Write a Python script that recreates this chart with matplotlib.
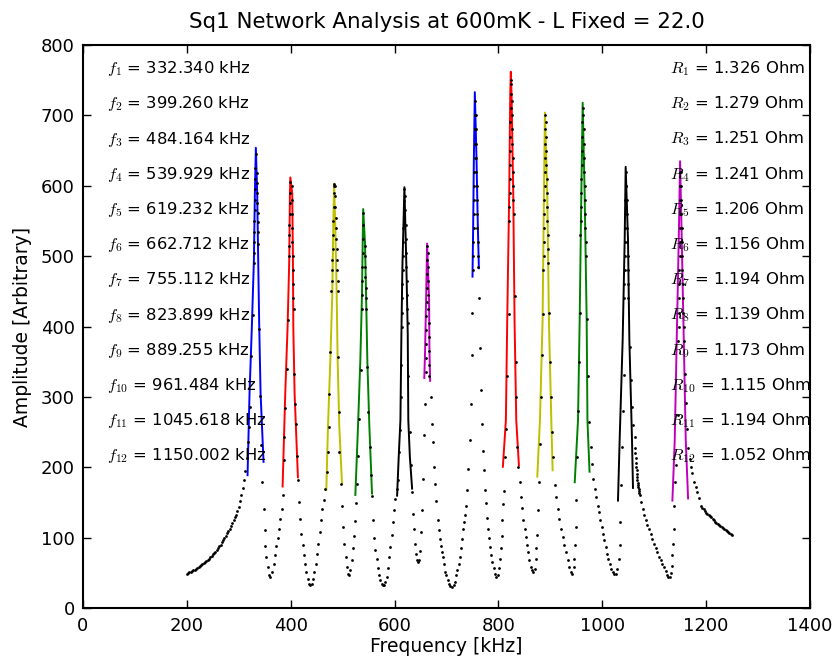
import matplotlib
matplotlib.use("Agg")
import matplotlib.pyplot as plt

# ---------------- data ----------------
res_freq_khz = [332.340, 399.260, 484.164, 539.929, 619.232, 662.712,
                755.112, 823.899, 889.255, 961.484, 1045.618, 1150.002]
res_ohm = [1.326, 1.279, 1.251, 1.241, 1.206, 1.156,
           1.194, 1.139, 1.173, 1.115, 1.194, 1.052]
fit_colors = ['#0000ff', '#ff0000', '#bfbf00', '#008000', '#000000', '#bf00bf',
              '#0000ff', '#ff0000', '#bfbf00', '#008000', '#000000', '#bf00bf']

# measured sweep (black dots), split between resonances
seg0_f = [200, 202.5, 205, 207.5, 210, 212.5, 215, 217.5, 220, 222.5, 225, 227.5, 230, 232.5,
          235, 237.5, 240, 242.5, 245, 247.5, 250, 252.5, 255, 257.5, 260, 262.5, 265, 267.5,
          270, 272.5, 275, 277.5, 280, 282.5, 285, 287.5, 290, 292.5, 295, 297.5, 300, 302.5,
          305, 307.5, 310, 312.5, 315, 317, 319, 320.7, 323.9, 326.5,
          328.4, 328.8, 329.2, 329.6, 330, 330.4, 330.8, 331.2, 331.6, 332, 332.4]
seg0_a = [49, 50, 51, 52, 53, 54, 55, 56.5, 57.5, 59, 60, 61.5, 62.5, 64,
          65.5, 67, 69, 70.5, 72.5, 74.5, 76.5, 78.5, 80.5, 83, 85.5, 88, 90.5, 93.5,
          96.5, 99.5, 103, 106.5, 110, 113, 117, 121, 125, 129, 133, 138, 144, 152,
          161, 171, 182, 195, 214, 236, 258, 286, 359, 416,
          490, 505, 520, 535, 550, 565, 580, 595, 610, 625, 645]

seg1_f = [334.6, 335, 335.4, 335.8, 336.2, 336.6, 337, 337.4, 338.8, 341.3, 343.2, 345.3,
          347.8, 349.7, 351, 352.9, 355.5, 358.2, 360.6, 363.9, 367.1, 369.6, 372.2, 374.8,
          377.4, 379.9, 382.5, 384.4, 386.3, 387.6, 389.5, 392.1, 394.6,
          396.2, 396.6, 397, 397.4, 397.8, 398.2, 398.6, 399]
seg1_a = [618, 604, 590, 576, 562, 548, 534, 518, 397, 301, 232, 180,
          141.5, 110.7, 88, 73, 58.7, 47, 44.5, 51.6, 62.4, 75.2, 88, 100.3,
          113.1, 127.3, 141.5, 160.5, 210, 243, 284, 340, 409,
          500, 515, 530, 545, 560, 575, 590, 605]

seg2_f = [401.8, 402.2, 402.6, 403, 403.4, 403.8, 404.2, 404.6, 405, 405.4,
          406.2, 408, 410, 411.6, 413.3, 416.6, 418.5, 420.4, 423, 424.9, 426.8, 430.1,
          432.6, 435.9, 437.8, 440.3, 442.9, 445.5, 448.1, 450.6, 453.2, 455.8, 458.3,
          460.9, 463.5, 466.5, 469.5, 471.5, 473, 474.5, 476.3, 478.2,
          479.5, 480, 480.5, 481, 481.5, 482, 482.5, 483, 483.4, 483.8]
seg2_a = [600, 580, 560, 540, 520, 500, 480, 460, 440, 425,
          333, 290, 262, 217, 182, 151, 126.4, 106, 89.4, 75.2, 63.4, 51.6,
          42.1, 35, 32.6, 35, 42.1, 51.6, 63.4, 77.6, 91.8, 108.4, 126,
          141.5, 154, 170, 194, 222, 258, 305, 364, 450,
          465, 480, 495, 510, 530, 550, 570, 590, 603, 600]

seg3_f = [484.6, 485.4, 486, 486.6, 487.2, 487.8, 488.4, 489, 489.6, 490.2, 490.8,
          491.2, 493, 493.6, 496.2, 498.8, 501, 503.3, 505.6, 508, 510.3, 512.6, 514.9,
          517.2, 519.5, 521.8, 524.1, 526.4, 527.5, 530, 532, 535.4,
          536.8, 537.2, 537.6, 538, 538.4, 538.8, 539.1, 539.3]
seg3_a = [600, 585, 570, 555, 540, 525, 510, 495, 480, 465, 450,
          357, 279, 222, 177, 145, 116, 92, 73, 58, 49, 47, 54,
          68, 86, 103, 124, 150, 177, 217, 269, 338,
          425, 445, 465, 485, 505, 525, 545, 562]

seg4_f = [542.5, 543, 543.5, 544, 544.5, 545, 545.5, 547, 549.6, 552.1, 554.5, 556.6,
          558.6, 561, 563.2, 565.6, 568, 570.4, 572.8, 575.2, 577.6, 580, 582.4, 584.8,
          587.2, 589.6, 592, 594.4, 596.8, 599.2, 601.6, 604, 606.2, 608.8, 610.3, 611.5,
          612.5, 613.5, 614, 614.5, 615, 615.5, 616, 616.5, 617, 617.5, 618, 618.5]
seg4_a = [515, 500, 485, 470, 455, 440, 425, 343, 279, 229, 190, 160,
          125, 100, 83, 70, 57, 47, 40, 35, 32.6, 33.5, 38, 45,
          57, 73, 87, 104, 122, 139, 155, 170, 182, 222, 253, 300,
          345, 400, 420, 440, 460, 480, 500, 520, 540, 560, 578, 595]

seg5_f = [620.5, 621, 621.5, 622, 622.5, 623, 623.5, 624, 624.5, 625,
          626.5, 629.3, 631.2, 633.8, 635.7, 637, 639, 641.5, 643.4, 645.4, 647.9, 649.9,
          651.2, 653.1, 655, 657.6, 659,
          659.8, 660.2, 660.6, 661, 661.4, 661.8, 662.2, 662.5, 662.7, 662.9]
seg5_a = [585, 565, 545, 525, 505, 485, 465, 445, 425, 405,
          330, 250, 204, 165, 134, 112, 91, 77.6, 68, 65.8, 69, 82,
          108, 140, 184, 246, 290,
          335, 355, 375, 395, 415, 435, 455, 475, 495, 515]

seg6_f = [663.6, 664, 664.4, 664.8, 665.2, 665.6, 666, 666.4, 666.8, 667.2,
          670, 672, 673.7, 675.6, 677.5, 680.1, 683.3, 685.2, 687.2, 689.7, 691.7, 693.6,
          695.5, 698.1, 700, 702.6, 705.1, 707.7, 710.9, 714.2, 716.1, 718.7, 721.2, 723.8,
          725.7, 727.6, 729.6, 731.5, 733.4, 735.4, 737.3, 739.9, 741.8, 744.4, 746.5,
          748.5, 750,
          751, 751.4, 751.8, 752.2, 752.6, 753, 753.4, 753.8, 754.1, 754.4, 754.6, 754.8, 755]
seg6_a = [505, 485, 465, 445, 425, 405, 385, 365, 345, 330,
          300, 262, 236, 201, 177, 153, 125, 111, 99, 89, 80, 73,
          63, 52, 47, 40, 35, 31.7, 30.3, 32.6, 37.4, 46.8, 54, 63,
          73, 85, 99, 113, 122, 133, 146, 168, 198, 239, 290,
          360, 420,
          480, 500, 520, 540, 560, 580, 600, 620, 640, 660, 680, 700, 720]

seg7_f = [756, 756.5, 757, 757.4, 757.8, 758.2, 758.6, 759, 759.5, 760, 760.6, 761.2,
          763.5, 765, 766.5, 768.5, 770.5, 772.5, 774.5, 776.5, 778.5, 780.5, 782.5, 784.5,
          786.5, 788.5, 791, 793.5, 796, 798.5, 801, 803, 804.5, 806, 807.5, 809.5, 811,
          812.8, 815.5, 817.5, 820.9,
          821, 821.3, 821.6, 821.9, 822.2, 822.5, 822.8, 823.1, 823.4, 823.7, 824]
seg7_a = [700, 680, 660, 640, 620, 600, 580, 560, 540, 520, 500, 485,
          440, 370, 310, 262, 224, 196, 168, 149, 128, 113, 100, 87,
          75, 66, 57, 49, 44.5, 47, 57, 70, 85, 103, 125, 148, 167,
          215, 255, 330, 418,
          550, 570, 590, 610, 630, 650, 670, 690, 710, 730, 750]

seg8_f = [825, 825.5, 826, 826.5, 827, 827.5, 828, 828.5, 829, 829.5,
          831.1, 833, 834.5, 836.3, 838.5, 841.4, 844, 845.9, 847.9, 850.4, 852.4, 854.3,
          856.9, 859.4, 862, 865.2, 867.1, 869.7, 871.6, 872.9, 874.9, 876.1, 878.1, 880,
          882, 884, 885.8,
          886.5, 886.9, 887.3, 887.7, 888.1, 888.5, 888.8, 889.1, 889.3, 889.5, 889.7, 889.9]
seg8_a = [745, 720, 700, 680, 660, 640, 620, 600, 580, 560,
          443, 350, 300, 229, 200, 180, 158, 143, 126, 113, 101, 89.5,
          80, 68, 58.7, 54, 51.6, 56, 70.5, 86, 104, 140, 179, 234,
          300, 360, 418,
          480, 500, 520, 540, 560, 580, 600, 620, 640, 660, 680, 700]

seg9_f = [891, 891.5, 892, 892.5, 893, 893.5, 894, 894.5, 895, 895.5, 896,
          897.5, 899.3, 901, 903.5, 906, 908.3, 910.7, 914, 917.1, 920.4, 923.6, 926.8,
          930, 933.2, 936.4, 939.6, 942.2, 944.8, 946.1, 947.4, 948.7, 950, 952, 954,
          956, 957.5,
          958, 958.5, 959, 959.5, 960, 960.5, 961, 961.4, 961.8, 962.1]
seg9_a = [690, 670, 650, 630, 610, 590, 570, 550, 530, 510, 490,
          420, 350, 300, 250, 215, 175, 158, 141.5, 127, 113, 101, 89.4,
          80, 68, 58.7, 51.6, 49.2, 58.7, 70.5, 89.4, 115.5, 153.4, 215, 280,
          350, 420,
          530, 550, 570, 590, 610, 630, 650, 670, 690, 710]

seg10_f = [963.5, 964, 964.5, 965, 965.5, 966, 966.5, 967, 967.5, 968, 968.5,
           970, 972, 975, 977.7, 980.9, 982.8, 985.9, 988.5, 991, 993.6, 996.2, 998.8,
           1001.3, 1003.9, 1006.5, 1009.1, 1011.6, 1014.2, 1016.8, 1020, 1023.2, 1025.8,
           1029, 1032.3, 1033.5, 1034.2, 1036, 1038.7, 1040.5, 1041.9,
           1042.5, 1042.8, 1043.1, 1043.4, 1043.7, 1044, 1044.3, 1044.6, 1044.9, 1045.2]
seg10_a = [700, 680, 660, 640, 620, 600, 580, 560, 540, 520, 500,
           411, 330, 265, 229, 205, 183, 170, 158, 146, 137, 125, 115.5,
           106, 96.5, 87, 77.6, 70.5, 63.4, 56.3, 51.6, 48.3, 49.2,
           56.3, 70.5, 89.4, 122.6, 175, 229, 280, 331,
           440, 460, 480, 500, 520, 540, 560, 580, 600, 620]

seg11_f = [1046.5, 1047, 1047.5, 1048, 1048.5, 1049, 1049.5, 1050, 1050.5,
           1053.4, 1055.4, 1058, 1059.9, 1062.5, 1063, 1063.6, 1064.2, 1064.8, 1065.4,
           1066, 1066.6, 1067.2, 1067.8, 1068.4, 1069, 1069.6, 1070.2, 1070.8, 1071.5,
           1072.8, 1075.3, 1077.9, 1080.5, 1083.7, 1086.9, 1090.1, 1093.3, 1096.5, 1099.8,
           1103, 1106.2, 1109.4, 1112.6, 1115.8, 1119, 1122.2, 1124.7, 1127.2, 1129.6,
           1131.8, 1133.5, 1135, 1136.5, 1137.8, 1139, 1141, 1142.8, 1146,
           1146.8, 1147.2, 1147.6, 1148, 1148.4, 1148.7, 1149, 1149.2, 1149.4, 1149.6,
           1149.8, 1150, 1150.2]
seg11_a = [600, 580, 560, 540, 520, 500, 480, 460, 440,
           371, 324, 286, 260, 243, 227, 220, 213, 207, 201,
           196, 191, 186, 182, 178, 175, 172, 169, 166, 164,
           160.5, 151, 141.5, 132, 125, 118, 113, 106, 99, 92,
           85, 80, 73, 68, 62.5, 58.7, 53, 48, 45, 45,
           50, 60, 75, 92, 112, 145, 180, 203, 274,
           380, 400, 420, 440, 460, 480, 500, 520, 540, 560,
           580, 600, 620]

seg12_f = [1151, 1151.5, 1152, 1152.5, 1153, 1153.5, 1154, 1154.5, 1155, 1155.5, 1156,
           1156.5, 1157, 1159, 1161, 1163.5, 1166, 1168.5, 1171, 1173.7, 1176.9, 1180.1,
           1183.3, 1186.5, 1190, 1192.5, 1195, 1197.5, 1200, 1202.5, 1205, 1207.5, 1210,
           1212.5, 1215, 1217.5, 1220, 1222.5, 1225, 1227.5, 1230, 1232.5, 1235, 1237.5,
           1240, 1242.5, 1245, 1247.5, 1250]
seg12_a = [620, 600, 580, 560, 540, 520, 500, 480, 460, 440, 420,
           400, 380, 333, 291, 255, 228, 212, 201, 192, 180, 172,
           165, 156, 146, 143, 140.5, 138, 136, 134, 132, 130.5, 129,
           127, 125, 123, 121.5, 120, 118, 116.5, 115, 114, 113, 111,
           109.5, 108, 106.5, 105, 104]

# fitted resonance curves (coloured lines)
fit1_f = [316.9, 320.7, 325.2, 329.1, 331.0, 332.9, 335.5, 337.4, 339.4, 342.0, 347.7]
fit1_a = [189, 305, 400, 494, 589, 654, 589, 494, 400, 305, 208]
fit2_f = [384.4, 389.5, 394.0, 397.2, 398.5, 399.3, 403.0, 404.3, 405.0, 407.5, 413.9]
fit2_a = [173, 305, 400, 494, 589, 612, 589, 494, 400, 305, 186]
fit3_f = [468.6, 471.8, 476.3, 480.1, 482.0, 483.6, 485.9, 488.5, 490.4, 493.6, 498.8]
fit3_a = [168, 258, 352, 447, 542, 603, 542, 447, 352, 258, 177]
fit4_f = [524.5, 529.6, 534.1, 537.3, 538.6, 539.6, 543.1, 545.1, 547.6, 551.5, 556.6]
fit4_a = [161, 258, 352, 447, 518, 567, 518, 447, 352, 258, 163]
fit5_f = [604.9, 608.0, 611.3, 613.2, 615.1, 619.0, 622.8, 625.4, 626.5, 629.5, 633.8]
fit5_a = [160, 215, 267, 390, 485, 598, 485, 390, 267, 215, 170]
fit6_f = [657.3, 658.8, 660.7, 662.7, 666.5, 667.2, 668.5]
fit6_a = [327, 366, 438, 518, 438, 366, 323]
fit7_f = [750.1, 751.4, 752.7, 754.6, 757.9, 760.4, 762.4]
fit7_a = [471, 542, 636, 733, 636, 542, 483]
fit8_f = [808.6, 814.4, 817.0, 820.8, 822.8, 823.9, 825.3, 828.6, 831.1, 834.4, 839.5]
fit8_a = [201, 267, 409, 589, 731, 762, 731, 589, 409, 267, 203]
fit9_f = [874.9, 880.0, 885.1, 887.7, 889.6, 894.1, 897.3, 901.9, 904.4]
fit9_a = [187, 267, 409, 589, 704, 589, 409, 267, 196]
fit10_f = [947.0, 953.3, 956.5, 959.7, 962.3, 966.1, 970.0, 971.5, 975.5]
fit10_a = [179, 267, 409, 589, 718, 589, 409, 267, 194]
fit11_f = [1030.3, 1033.5, 1039.3, 1043.2, 1045.1, 1049.6, 1052.2, 1057.3, 1059.2]
fit11_a = [153, 239, 381, 523, 627, 523, 381, 239, 171]
fit12_f = [1135.1, 1139.6, 1143.4, 1147.3, 1149.9, 1153.1, 1157.0, 1160.8, 1165.3]
fit12_a = [153, 239, 381, 523, 635, 523, 381, 239, 156]

x_ticks = [0, 200, 400, 600, 800, 1000, 1200, 1400]
y_ticks = [0, 100, 200, 300, 400, 500, 600, 700, 800]

# ---------------- plot ----------------
plt.rcParams['mathtext.fontset'] = 'cm'
fig = plt.figure(figsize=(8.35, 6.56), dpi=100)
ax = fig.add_axes([0.0994, 0.0727, 0.8706, 0.8587])

fits = [(fit1_f, fit1_a), (fit2_f, fit2_a), (fit3_f, fit3_a), (fit4_f, fit4_a),
        (fit5_f, fit5_a), (fit6_f, fit6_a), (fit7_f, fit7_a), (fit8_f, fit8_a),
        (fit9_f, fit9_a), (fit10_f, fit10_a), (fit11_f, fit11_a), (fit12_f, fit12_a)]
for (ff, fa), col in zip(fits, fit_colors):
    ax.plot(ff, fa, '-', color=col, lw=1.4, zorder=2)

segs = [(seg0_f, seg0_a), (seg1_f, seg1_a), (seg2_f, seg2_a), (seg3_f, seg3_a),
        (seg4_f, seg4_a), (seg5_f, seg5_a), (seg6_f, seg6_a), (seg7_f, seg7_a),
        (seg8_f, seg8_a), (seg9_f, seg9_a), (seg10_f, seg10_a), (seg11_f, seg11_a),
        (seg12_f, seg12_a)]
for sf, sa in segs:
    ax.plot(sf, sa, 'o', color='black', ms=2.0, mew=0, zorder=3)

for i, (fr, r) in enumerate(zip(res_freq_khz, res_ohm)):
    y = 760 - 50 * i
    ax.text(47, y, r'$f_{%d}$ = %.3f kHz' % (i + 1, fr), fontsize=11.8, ha='left', va='baseline')
    ax.text(1130, y, r'$R_{%d}$ = %.3f Ohm' % (i + 1, r), fontsize=11.8, ha='left', va='baseline')

ax.set_xlim(0, 1400)
ax.set_ylim(0, 800)
ax.set_xticks(x_ticks)
ax.set_yticks(y_ticks)
ax.tick_params(direction='in', top=True, right=True, length=6, width=1, labelsize=13, pad=6)
for s in ax.spines.values():
    s.set_linewidth(1.5)
ax.set_xlabel('Frequency [kHz]', fontsize=13.5, labelpad=2)
ax.set_ylabel('Amplitude [Arbitrary]', fontsize=13.5, labelpad=6)
ax.set_title('Sq1 Network Analysis at 600mK - L Fixed = 22.0', fontsize=15.4, pad=12)

fig.savefig('out.png', dpi=100)
